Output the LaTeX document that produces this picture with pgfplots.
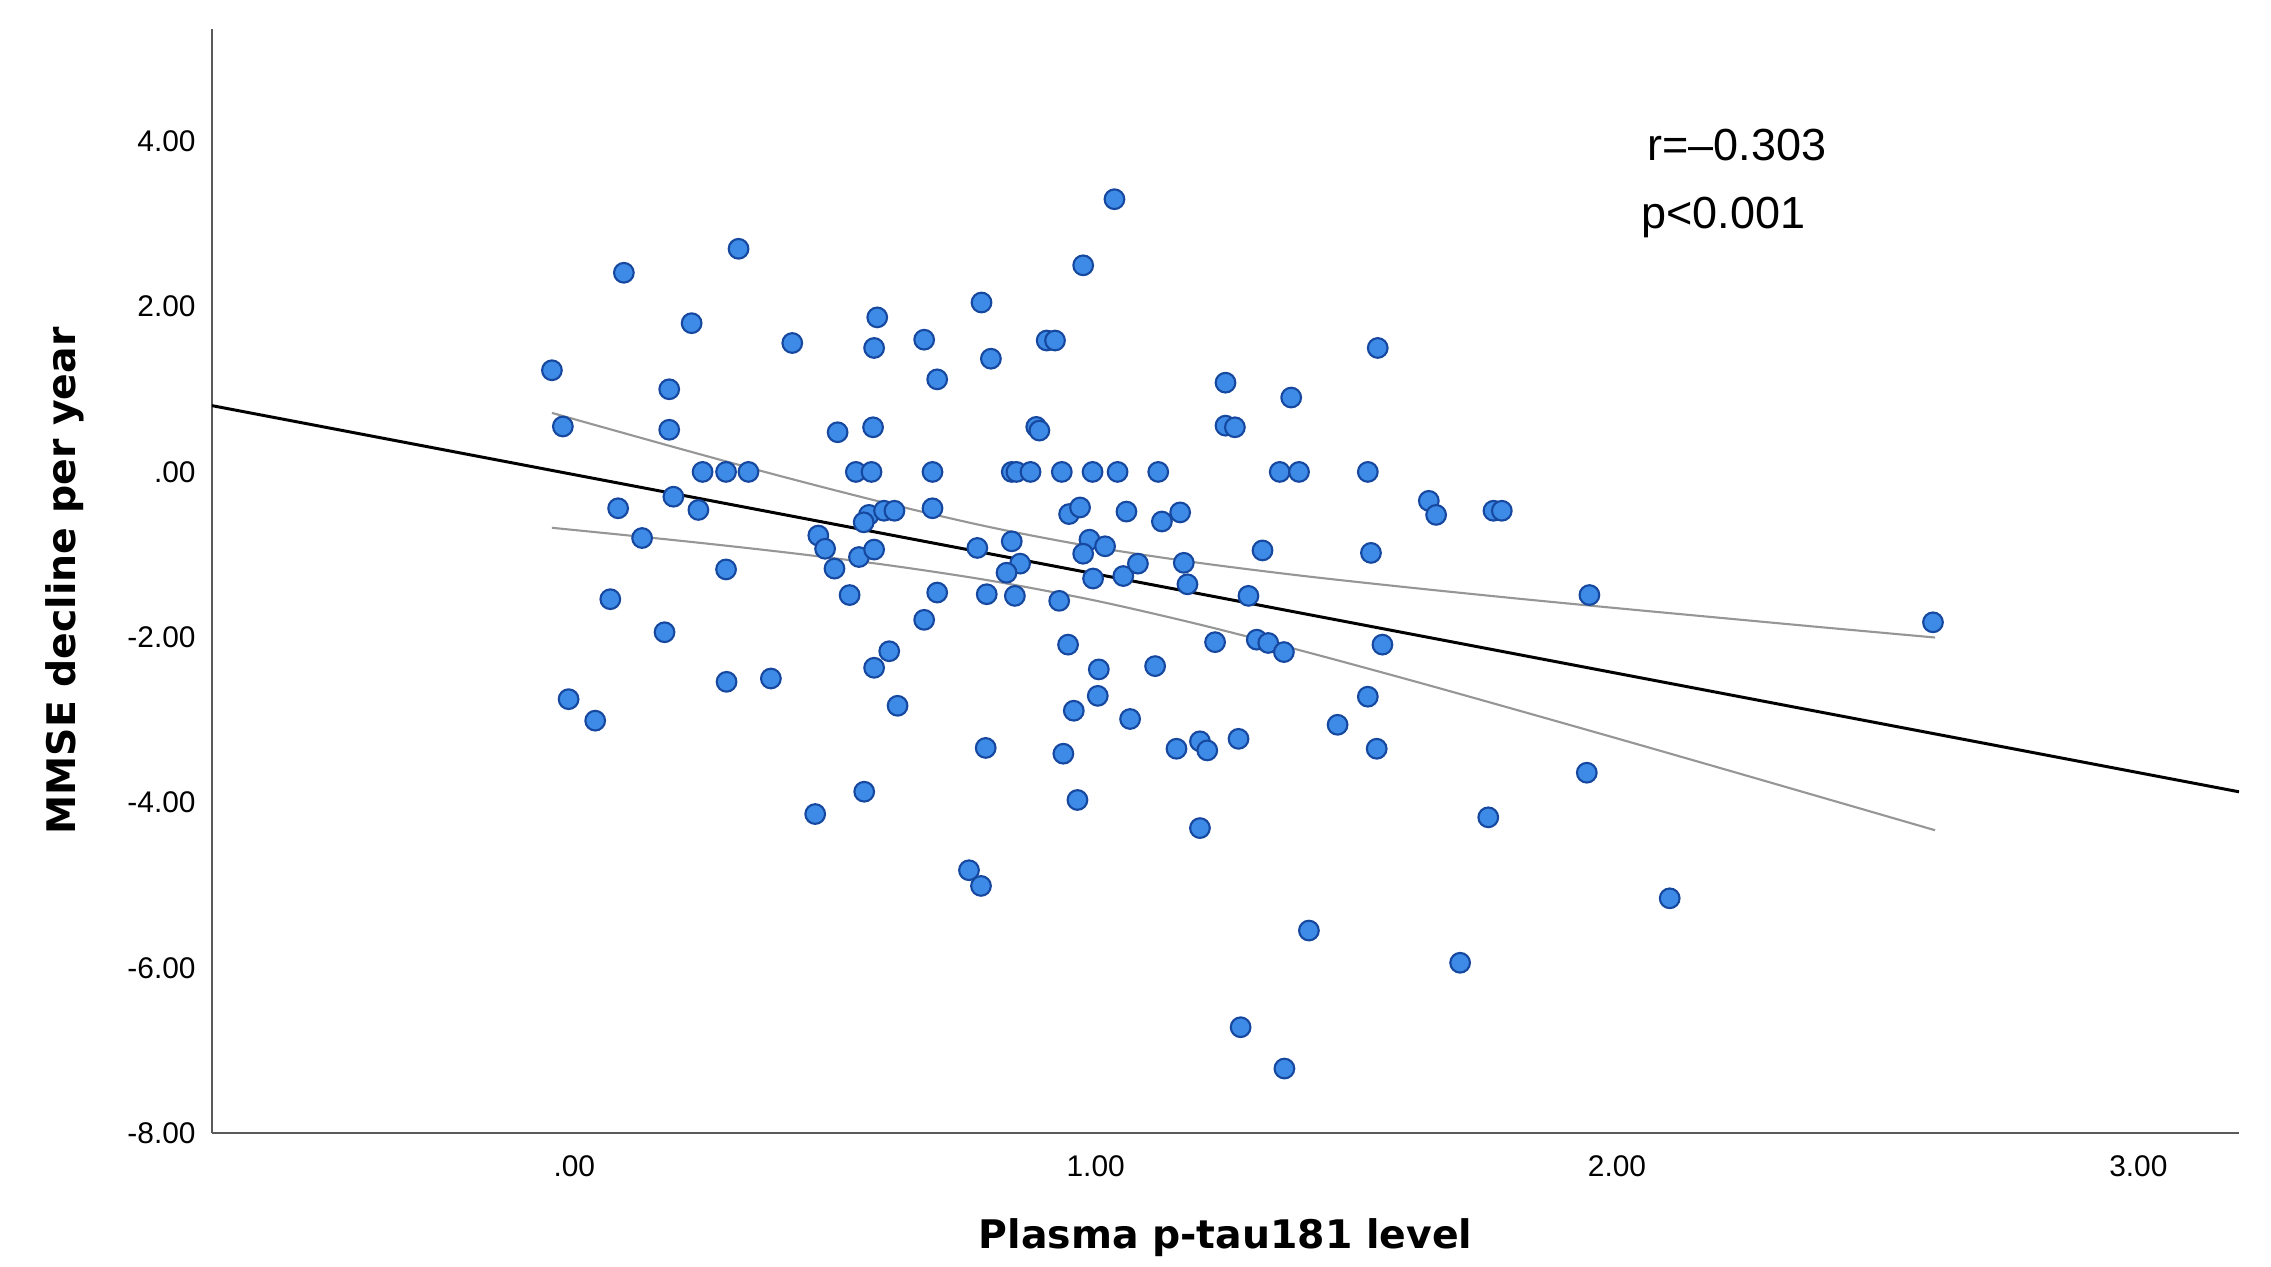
\documentclass[border=0pt]{standalone}
\usepackage{fontspec}
\setmainfont{Liberation Sans}
\newfontfamily\labfont{DejaVu Sans}
\usepackage{pgfplots}
\pgfplotsset{compat=1.18}

\definecolor{dotFill}{RGB}{61,139,230}
\definecolor{dotEdge}{RGB}{22,72,160}
\definecolor{ciGray}{RGB}{150,150,150}
\definecolor{axGray}{RGB}{90,90,90}

\pgfplotstableread{
x y
0.315 2.70
0.095 2.41
0.225 1.80
0.418 1.56
-0.043 1.23
0.182 1.00
-0.022 0.55
0.182 0.51
0.581 1.87
0.575 1.50
0.671 1.60
0.781 2.05
0.799 1.37
0.696 1.12
0.505 0.48
0.573 0.54
0.246 0.00
0.291 0.00
0.334 0.00
0.540 0.00
0.570 0.00
0.687 0.00
0.084 -0.44
0.190 -0.30
0.238 -0.46
0.130 -0.80
0.291 -1.18
0.069 -1.54
0.173 -1.94
0.565 -0.52
0.555 -0.61
0.594 -0.47
0.614 -0.47
0.687 -0.44
0.468 -0.77
0.481 -0.93
0.499 -1.17
0.546 -1.03
0.575 -0.94
0.528 -1.49
0.696 -1.46
0.773 -0.92
0.791 -1.48
0.671 -1.79
1.036 3.30
0.976 2.50
0.906 1.59
0.922 1.59
1.541 1.50
1.249 1.08
1.375 0.90
0.886 0.545
0.892 0.50
1.249 0.56
1.267 0.54
0.839 0.00
0.848 0.00
0.875 0.00
0.935 0.00
0.994 0.00
1.042 0.00
1.120 0.00
1.353 0.00
1.390 0.00
1.522 0.00
1.639 -0.35
1.653 -0.52
0.949 -0.51
0.970 -0.43
1.059 -0.48
1.127 -0.60
1.162 -0.49
0.839 -0.84
0.855 -1.11
0.829 -1.22
0.845 -1.50
0.930 -1.56
0.988 -0.82
0.976 -0.99
1.018 -0.90
0.995 -1.29
1.053 -1.26
1.081 -1.11
1.169 -1.10
1.176 -1.36
1.320 -0.95
1.293 -1.50
1.528 -0.98
1.763 -0.47
1.779 -0.47
1.947 -1.49
2.606 -1.82
-0.011 -2.75
0.040 -3.01
0.292 -2.54
0.377 -2.50
0.604 -2.17
0.575 -2.37
0.620 -2.83
0.789 -3.34
0.556 -3.87
0.462 -4.14
0.757 -4.82
0.780 -5.01
0.947 -2.09
1.229 -2.06
1.309 -2.03
1.331 -2.07
1.361 -2.18
1.550 -2.09
1.006 -2.39
1.114 -2.35
1.004 -2.71
0.958 -2.89
1.066 -2.99
1.522 -2.72
1.464 -3.06
1.539 -3.35
0.938 -3.41
1.155 -3.35
1.200 -3.26
1.214 -3.37
1.274 -3.23
0.965 -3.97
1.200 -4.31
1.409 -5.55
1.699 -5.94
1.278 -6.72
1.362 -7.22
1.942 -3.64
1.753 -4.18
2.101 -5.16
}\scatterdata

% 95% CI band edges
\pgfplotstableread{
x upper lower
-0.043 0.714 -0.676
0.2 0.285 -0.831
0.4 -0.058 -0.970
0.6 -0.381 -1.127
0.8 -0.672 -1.318
1.0 -0.912 -1.558
1.2 -1.102 -1.848
1.4 -1.260 -2.172
1.6 -1.398 -2.514
1.8 -1.527 -2.867
2.0 -1.649 -3.225
2.2 -1.767 -3.587
2.4 -1.884 -3.952
2.61 -2.004 -4.336
}\cidata

\begin{document}
\begin{tikzpicture}
\begin{axis}[
    name=ax,
    scale only axis,
    width=20.27cm, height=11.04cm,
    xmin=-0.695, xmax=3.193,
    ymin=-8, ymax=5.36,
    axis lines*=left,
    axis line style={-, draw=axGray, line width=0.8pt},
    xtick={0,1,2,3},
    xticklabels={.00,1.00,2.00,3.00},
    ytick={-8,-6,-4,-2,0,2,4},
    yticklabels={-8.00,-6.00,-4.00,-2.00,.00,2.00,4.00},
    major tick length=0pt,
    tick label style={font=\fontsize{8.5}{10}\selectfont, text=black},
    xticklabel style={yshift=-0.1cm},
    yticklabel style={xshift=-0.04cm},
    xlabel={Plasma p-tau181 level},
    ylabel={MMSE decline per year},
    label style={font=\labfont\bfseries\fontsize{11.2}{13}\selectfont},
    xlabel style={at={(axis description cs:0.5,-0.0951)}, anchor=center},
    ylabel style={at={(axis description cs:-0.0725,0.5)}, anchor=center},
    clip=true,
]
\addplot[only marks, mark=*, mark size=2.8pt,
    mark options={fill=dotFill, draw=dotEdge, line width=0.6pt}]
    table[x=x, y=y] {\scatterdata};
\addplot[smooth, ciGray, line width=0.6pt] table[x=x, y=upper] {\cidata};
\addplot[smooth, ciGray, line width=0.6pt] table[x=x, y=lower] {\cidata};
\addplot[black, line width=0.85pt] coordinates {(-0.695,0.802) (3.193,-3.871)};
\node[anchor=west, font=\fontsize{12.8}{14}\selectfont] at (axis cs:2.035,3.955) {r=–0.303};
\node[anchor=west, font=\fontsize{12.8}{14}\selectfont] at (axis cs:2.023,3.08) {p<0.001};
\end{axis}
\pgfresetboundingbox
\path (ax.south west) ++(-2.12cm,-1.33cm) rectangle ++(22.71cm,12.66cm);
\end{tikzpicture}
\end{document}
